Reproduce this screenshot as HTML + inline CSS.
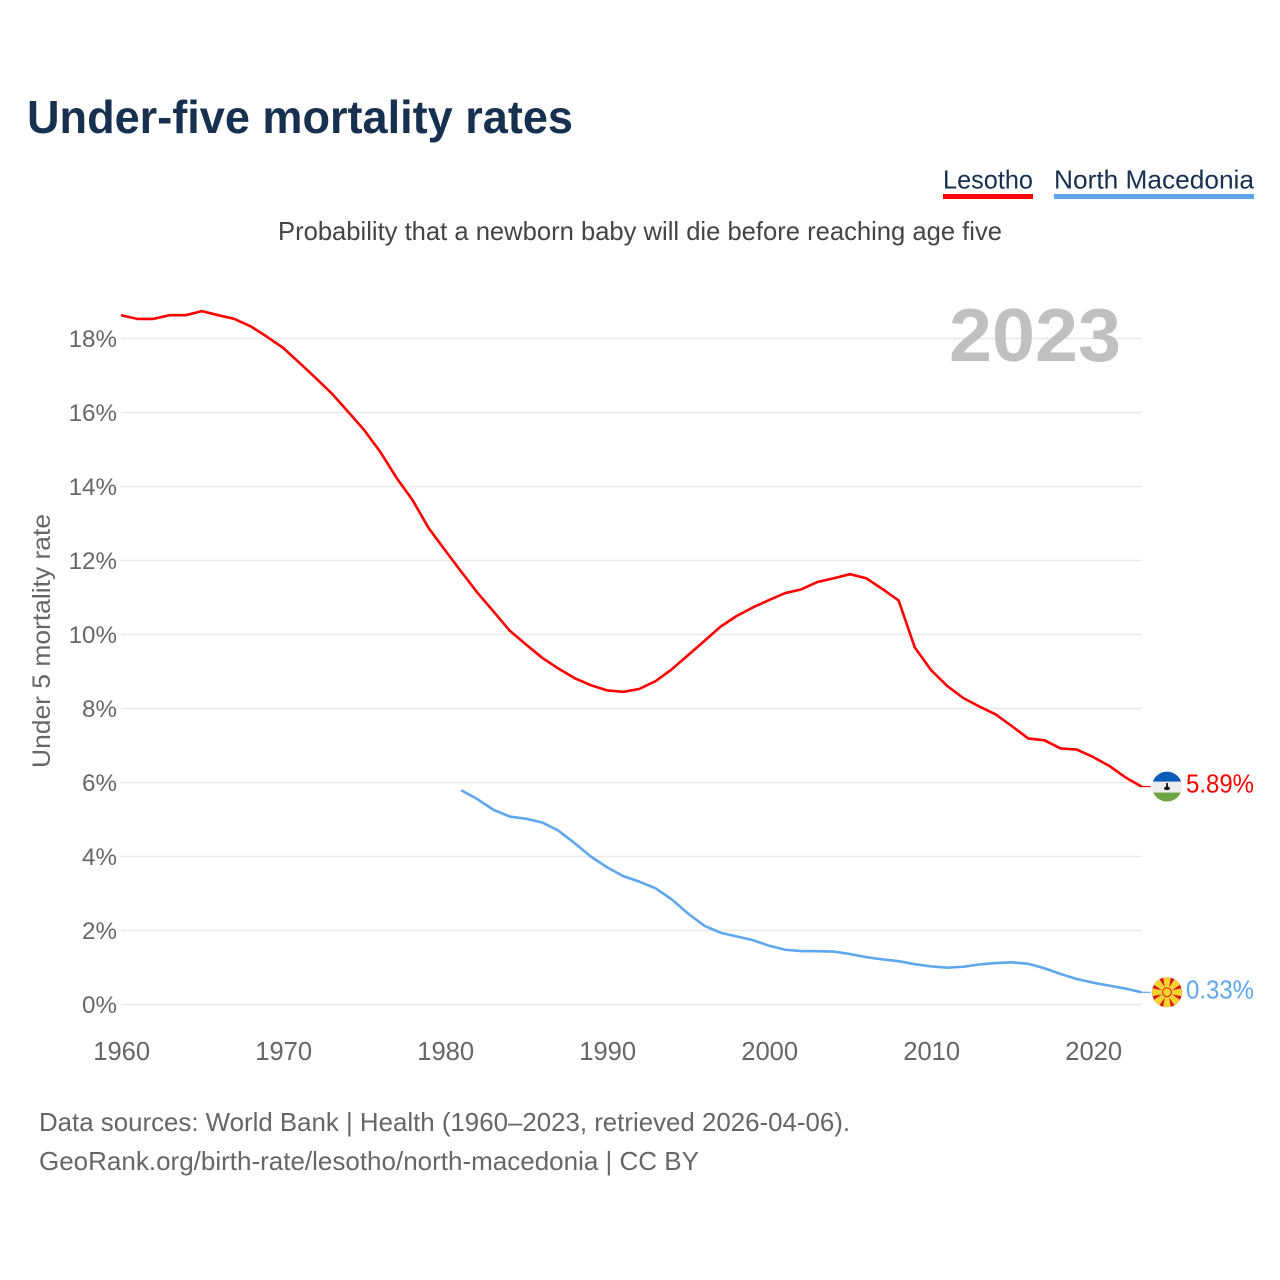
<!DOCTYPE html>
<html lang="en">
<head>
<meta charset="utf-8">
<title>Under-five mortality rates</title>
<style>
html,body{margin:0;padding:0;background:#fff;width:1280px;height:1280px;overflow:hidden}
svg{display:block}
text{font-family:"Liberation Sans",Arial,sans-serif}
</style>
</head>
<body>
<svg id="chart" xmlns="http://www.w3.org/2000/svg" width="1280" height="1280" viewBox="0 0 1280 1280">
  <defs>
    <clipPath id="flag-clip-ls"><circle cx="0" cy="0" r="15"/></clipPath>
    <clipPath id="flag-clip-mk"><circle cx="0" cy="0" r="15"/></clipPath>
  </defs>
  <rect x="0" y="0" width="1280" height="1280" fill="#ffffff"/>
  <text x="27" y="133" font-size="46" font-weight="700" fill="#17304f" textLength="546" lengthAdjust="spacingAndGlyphs">Under-five mortality rates</text>

  <g>
    <g>
      <text x="943" y="188.5" font-size="26" fill="#17304f" textLength="90" lengthAdjust="spacingAndGlyphs">Lesotho</text>
      <rect x="943" y="194" width="90" height="5" fill="#ff0000"/>
    </g>
    <g>
      <text x="1054" y="188.5" font-size="26" fill="#17304f" textLength="200" lengthAdjust="spacingAndGlyphs">North Macedonia</text>
      <rect x="1054" y="194" width="200" height="5" fill="#5ea6ee"/>
    </g>
  </g>

  <text x="278" y="240" font-size="26" fill="#444444" textLength="724" lengthAdjust="spacingAndGlyphs">Probability that a newborn baby will die before reaching age five</text>

  <g id="grid"></g>
  <g id="y-ticks"></g>
  <g id="x-ticks"></g>

  <text x="949" y="361" font-size="75" font-weight="700" fill="#c0c0c0" textLength="172" lengthAdjust="spacingAndGlyphs">2023</text>

  <text transform="translate(50,641) rotate(-90)" text-anchor="middle" font-size="25" fill="#666666" textLength="254" lengthAdjust="spacingAndGlyphs">Under 5 mortality rate</text>

  <g id="series"></g>

  <g id="flag-ls">
    <g clip-path="url(#flag-clip-ls)">
      <rect x="-15" y="-15" width="30" height="30" fill="#ededed"/>
      <rect x="-15" y="-15" width="30" height="10" fill="#0b5cb8"/>
      <rect x="-15" y="6" width="30" height="9" fill="#6ea544"/>
      <rect x="-0.9" y="-3.5" width="1.8" height="5.5" fill="#111111"/>
      <ellipse cx="0" cy="1.8" rx="3" ry="1.8" fill="#111111"/>
    </g>
  </g>
  <g id="flag-mk">
    <g clip-path="url(#flag-clip-mk)">
      <rect x="-15" y="-15" width="30" height="30" fill="#d8141c"/>
      <g fill="#f8d22e">
        <polygon points="-1.2,0 1.2,0 4,-15 -4,-15"/>
        <polygon points="-1.2,0 1.2,0 4,-15 -4,-15" transform="rotate(45)"/>
        <polygon points="-1.2,0 1.2,0 4,-15 -4,-15" transform="rotate(90)"/>
        <polygon points="-1.2,0 1.2,0 4,-15 -4,-15" transform="rotate(135)"/>
        <polygon points="-1.2,0 1.2,0 4,-15 -4,-15" transform="rotate(180)"/>
        <polygon points="-1.2,0 1.2,0 4,-15 -4,-15" transform="rotate(225)"/>
        <polygon points="-1.2,0 1.2,0 4,-15 -4,-15" transform="rotate(270)"/>
        <polygon points="-1.2,0 1.2,0 4,-15 -4,-15" transform="rotate(315)"/>
        <circle cx="0" cy="0" r="4.4" stroke="#d8141c" stroke-width="1"/>
      </g>
    </g>
  </g>
  <text id="label-ls" x="1186" font-size="26" fill="#ff0000" textLength="68" lengthAdjust="spacingAndGlyphs"></text>
  <text id="label-mk" x="1186" font-size="26" fill="#5ea6ee" textLength="68" lengthAdjust="spacingAndGlyphs"></text>

  <text x="39" y="1131" font-size="26" fill="#666666" textLength="811" lengthAdjust="spacingAndGlyphs">Data sources: World Bank | Health (1960–2023, retrieved 2026-04-06).</text>
  <text x="39" y="1170" font-size="26" fill="#666666" textLength="660" lengthAdjust="spacingAndGlyphs">GeoRank.org/birth-rate/lesotho/north-macedonia | CC BY</text>
</svg>
<script>
const years = [1960,1961,1962,1963,1964,1965,1966,1967,1968,1969,1970,1971,1972,1973,1974,1975,1976,1977,1978,1979,1980,1981,1982,1983,1984,1985,1986,1987,1988,1989,1990,1991,1992,1993,1994,1995,1996,1997,1998,1999,2000,2001,2002,2003,2004,2005,2006,2007,2008,2009,2010,2011,2012,2013,2014,2015,2016,2017,2018,2019,2020,2021,2022,2023];
const lesothoValues = [18.63,18.53,18.53,18.63,18.63,18.74,18.63,18.53,18.33,18.05,17.75,17.35,16.94,16.52,16.03,15.53,14.94,14.24,13.63,12.87,12.28,11.70,11.13,10.62,10.10,9.73,9.37,9.08,8.82,8.63,8.49,8.45,8.53,8.74,9.06,9.44,9.82,10.21,10.50,10.73,10.93,11.12,11.22,11.42,11.52,11.63,11.52,11.23,10.92,9.65,9.04,8.61,8.28,8.05,7.84,7.52,7.19,7.14,6.92,6.89,6.69,6.45,6.14,5.89];
const northMacedoniaValues = [null,null,null,null,null,null,null,null,null,null,null,null,null,null,null,null,null,null,null,null,null,5.79,5.55,5.26,5.08,5.02,4.92,4.70,4.36,4.00,3.71,3.47,3.32,3.14,2.84,2.46,2.13,1.94,1.84,1.74,1.59,1.48,1.445,1.44,1.43,1.365,1.28,1.22,1.17,1.09,1.03,0.995,1.02,1.085,1.12,1.14,1.10,0.98,0.825,0.69,0.59,0.51,0.43,0.33];
const yTickValues = [0,2,4,6,8,10,12,14,16,18];
const xTickValues = [1960,1970,1980,1990,2000,2010,2020];

const NS = 'http://www.w3.org/2000/svg';
function xScale(year){ return 121 + (year - 1960) * 16.2; }
function yScale(value){ return 1004.5 - value * 37; }
function make(tag, attrs, parent){
  const el = document.createElementNS(NS, tag);
  for (const k in attrs) el.setAttribute(k, attrs[k]);
  parent.appendChild(el);
  return el;
}

const gridGroup = document.getElementById('grid');
const yTickGroup = document.getElementById('y-ticks');
const xTickGroup = document.getElementById('x-ticks');
const seriesGroup = document.getElementById('series');

yTickValues.forEach(function(v){
  const line = make('line', {x1:121, x2:1141.6, y1:yScale(v), y2:yScale(v), stroke:'#e8e8e8', 'stroke-width':1.5}, gridGroup);
  
  
  const label = make('text', {x:117, y:yScale(v)+8.5, 'text-anchor':'end', 'font-size':24.2, fill:'#666666'}, yTickGroup);
  
  
  label.textContent = v + '%';
});

xTickValues.forEach(function(y){
  const label = make('text', {x:xScale(y)+0.7, y:1060, 'text-anchor':'middle', 'font-size':25.6, fill:'#666666'}, xTickGroup);
  
  
  label.textContent = y;
});

function drawSeries(values, color, name){
  const pts = [];
  values.forEach(function(v, i){
    if (v !== null) pts.push(xScale(years[i]).toFixed(2) + ',' + yScale(v).toFixed(2));
  });
  const line = make('polyline', {points:pts.join(' '), fill:'none', stroke:color, 'stroke-width':2.6, 'stroke-linejoin':'round'}, seriesGroup);
  
  
  const lastV = values[values.length - 1];
  const lastX = xScale(years[years.length - 1]);
  const link = make('line', {x1:lastX, x2:lastX + 9, y1:yScale(lastV), y2:yScale(lastV), stroke:color, 'stroke-width':1.2}, seriesGroup);
  
  
  return lastV;
}

const lsLast = drawSeries(lesothoValues, '#ff0000', 'lesotho-line');
const mkLast = drawSeries(northMacedoniaValues, '#5ea6ee', 'north-macedonia-line');

document.getElementById('flag-ls').setAttribute('transform', 'translate(1167,' + yScale(lsLast).toFixed(2) + ')');
document.getElementById('flag-mk').setAttribute('transform', 'translate(1167,' + yScale(mkLast).toFixed(2) + ')');

const labelLs = document.getElementById('label-ls');
labelLs.setAttribute('y', (yScale(lsLast) + 6).toFixed(2));
labelLs.textContent = lsLast.toFixed(2) + '%';
const labelMk = document.getElementById('label-mk');
labelMk.setAttribute('y', (yScale(mkLast) + 6).toFixed(2));
labelMk.textContent = mkLast.toFixed(2) + '%';
</script>
</body>
</html>
